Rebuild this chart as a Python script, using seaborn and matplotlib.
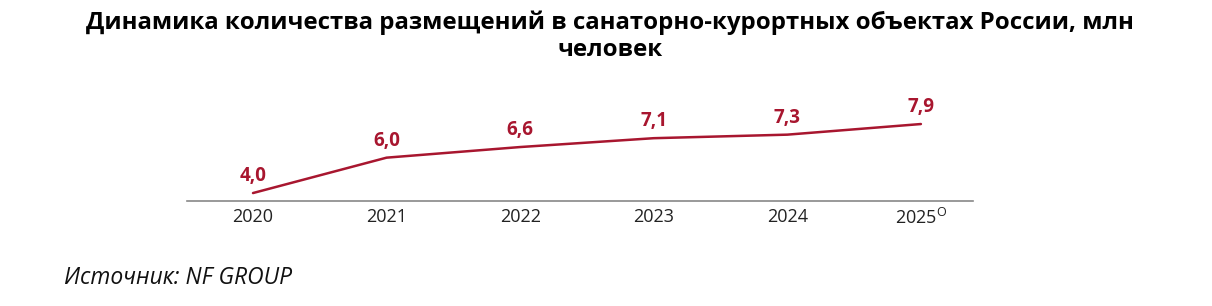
import matplotlib
matplotlib.use("Agg")
import matplotlib.pyplot as plt
import seaborn as sns
import pandas as pd

years = ["2020", "2021", "2022", "2023", "2024", "2025"]
tick_labels = ["2020", "2021", "2022", "2023", "2024", "2025$^{\\mathregular{O}}$"]
values = [4.0, 6.0, 6.6, 7.1, 7.3, 7.9]
value_labels = ["4,0", "6,0", "6,6", "7,1", "7,3", "7,9"]

title = "Динамика количества размещений в санаторно-курортных объектах России, млн\nчеловек"
source = "Источник: NF GROUP"

sns.set_theme(style="white")
plt.rcParams['font.family'] = ['Open Sans', 'DejaVu Sans']
plt.rcParams['mathtext.fontset'] = 'custom'
plt.rcParams['mathtext.rm'] = 'Open Sans'

RED = "#A8162F"

df = pd.DataFrame({"x": list(range(len(years))), "y": values})

fig = plt.figure(figsize=(12.12, 3.06), dpi=100)
ax = fig.add_axes([0.1543, 0.3431, 0.6485, 0.3464])

sns.lineplot(data=df, x="x", y="y", color=RED, linewidth=1.8, ax=ax)

for i, (v, lab) in enumerate(zip(values, value_labels)):
    ax.annotate(lab, (i, v), xytext=(0, 5), textcoords="offset points",
                ha="center", va="bottom", color=RED, fontsize=13.5, fontweight="bold")

ax.set_xlim(-0.494, 5.39)
ax.set_ylim(3.55, 9.54)
ax.set_xticks(range(len(years)))
ax.set_xticklabels(tick_labels, fontsize=13, color="#222222")
ax.set_yticks([])
ax.set_xlabel("")
ax.set_ylabel("")
for s in ["top", "right", "left"]:
    ax.spines[s].set_visible(False)
ax.spines["bottom"].set_color("#888888")
ax.spines["bottom"].set_linewidth(1.2)
ax.tick_params(axis="x", length=0, pad=5)

fig.text(0.503, 0.965, title, ha="center", va="top", fontsize=17.3, fontweight="bold",
         color="black", linespacing=1.15)
fig.text(0.053, 0.092, source, ha="left", va="center", fontsize=16.5, style="italic",
         color="#111111")

fig.savefig("out.png", dpi=100)
